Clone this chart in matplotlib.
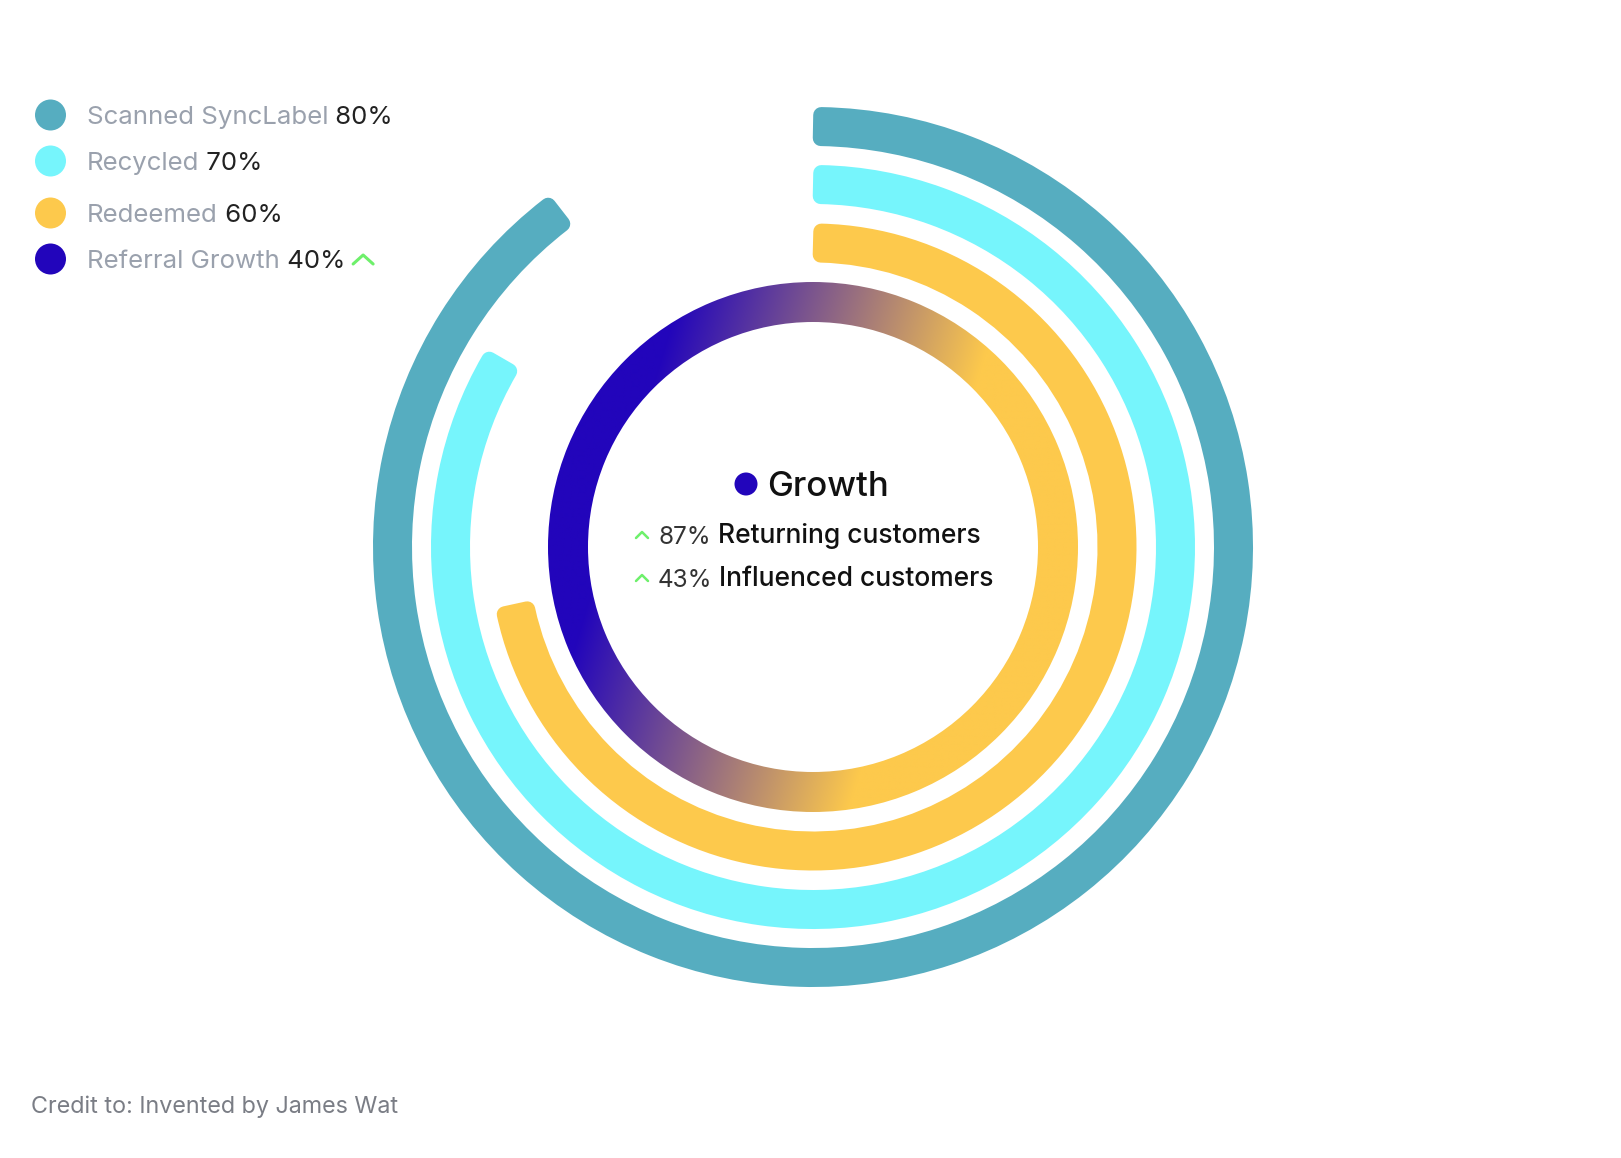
import matplotlib
matplotlib.use("Agg")
import matplotlib.pyplot as plt
import numpy as np
from matplotlib.patches import Wedge, Circle
from matplotlib.colors import to_rgb

W, H = 1621, 1158

# legend data
series = ["Scanned SyncLabel", "Recycled", "Redeemed", "Referral Growth"]
values = ["80%", "70%", "60%", "40%"]
colors = ["#56ADC0", "#76F5FC", "#FDC94C", "#2205BB"]
# share of the full circle covered by each ring (as drawn)
arc_share = [89.8, 83.7, 72.0, 100.0]

# centre block
center_title = "Growth"
center_pcts = ["87%", "43%"]
center_items = ["Returning customers", "Influenced customers"]

credit = "Credit to: Invented by James Wat"

plt.rcParams["font.family"] = ["Inter", "DejaVu Sans"]

fig = plt.figure(figsize=(W / 100, H / 100), dpi=100)
ax = fig.add_axes([0, 0, 1, 1])
ax.set_xlim(0, W)
ax.set_ylim(0, H)
ax.set_aspect("equal")
ax.axis("off")


def Y(y):
    return H - y


cx, cy = 813, Y(547)
r_outer = [440, 382, 323.5, 265]
ring_w = 39
pad = 8  # rounded corner radius

# coloured rings (all but the innermost gradient one)
for share, r, col in zip(arc_share[:3], r_outer[:3], colors[:3]):
    sweep = share / 100 * 360
    r_mid = r - ring_w / 2
    dpad = np.degrees(pad / r_mid)
    wedge = Wedge((cx, cy), r - pad, 90 - sweep + dpad, 90 - dpad, width=ring_w - 2 * pad,
                  facecolor=col, edgecolor=col, linewidth=2 * pad * 0.72, joinstyle="round")
    ax.add_patch(wedge)

# inner ring with linear gradient purple -> yellow
r = r_outer[3]
xs = np.linspace(cx - r, cx + r, 600)
ys = np.linspace(cy - r, cy + r, 600)
gx, gy = np.meshgrid(xs, ys)
proj = ((gx - cx) - 0.3 * (gy - cy)) / np.hypot(1, 0.3)
t = np.clip((proj + 200) / 310, 0, 1)
c0 = np.array(to_rgb(colors[3]))
c1 = np.array(to_rgb(colors[2]))
img = c0[None, None, :] * (1 - t[..., None]) + c1[None, None, :] * t[..., None]
im = ax.imshow(img, extent=(cx - r, cx + r, cy - r, cy + r), origin="lower", zorder=2,
               interpolation="bilinear")
ring = Wedge((cx, cy), r, 0, 360, width=ring_w + 1, facecolor="none", edgecolor="none")
ax.add_patch(ring)
im.set_clip_path(ring)
ax.set_xlim(0, W)
ax.set_ylim(0, H)

# legend
leg_y = [115, 161, 213, 259]
fig.canvas.draw()
renderer = fig.canvas.get_renderer()
inv = ax.transData.inverted()
last_end = None
for name, val, col, y in zip(series, values, colors, leg_y):
    ax.add_patch(Circle((50.5, Y(y)), 15.5, facecolor=col, edgecolor="none"))
    t1 = ax.text(87, Y(y), name, fontsize=18.6, color="#9AA1AD", va="center_baseline", ha="left")
    t2 = ax.annotate(" " + val, xy=(1, 0), xycoords=t1, va="bottom", ha="left",
                     fontsize=18.6, color="#222222")
    fig.canvas.draw()
    last_end = inv.transform(t2.get_window_extent(renderer))

# green caret after the last legend entry
x0 = last_end[1][0] + 8
ax.plot([x0, x0 + 10, x0 + 20], [Y(259) - 5, Y(259) + 4, Y(259) - 5], color="#6EF06B",
        linewidth=2.2, solid_capstyle="round")

# centre texts
ax.add_patch(Circle((746, Y(484)), 11.5, facecolor=colors[3], edgecolor="none", zorder=3))
ax.text(767, Y(484), center_title, fontsize=25, fontweight="medium", color="#111111",
        va="center_baseline", ha="left")
for pct, item, y in zip(center_pcts, center_items, [535, 578]):
    ax.plot([636, 642, 648], [Y(y) - 3, Y(y) + 3, Y(y) - 3], color="#6EF06B", linewidth=1.8,
            solid_capstyle="round")
    tp = ax.text(658, Y(y), pct, fontsize=17.5, color="#333333", va="center_baseline", ha="left")
    ax.annotate(" " + item, xy=(1, 0), xycoords=tp, va="bottom", ha="left", fontsize=19,
                fontweight="medium", color="#111111")

ax.text(31, Y(1104), credit, fontsize=16.8, color="#7A7D85", va="center_baseline", ha="left")

fig.savefig("out.png", dpi=100, facecolor="white")
